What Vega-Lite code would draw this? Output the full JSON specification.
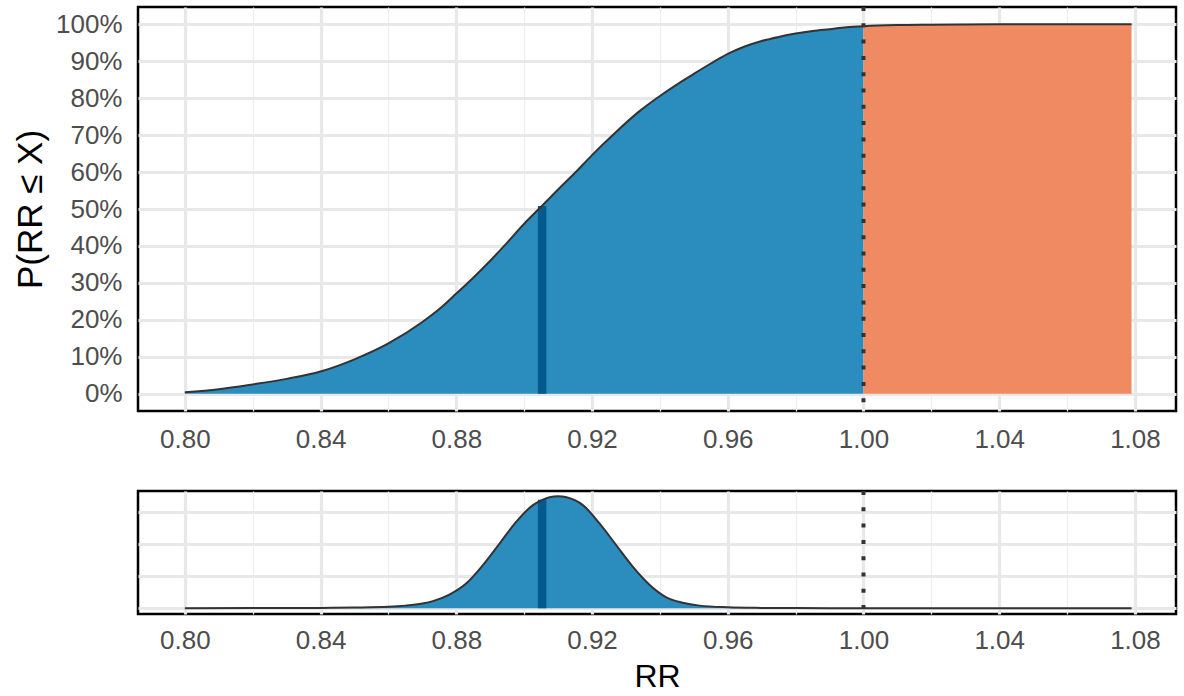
{
  "$schema": "https://vega.github.io/schema/vega-lite/v6.json",
  "background": "white",
  "padding": {"left": 12, "top": 3, "right": 8, "bottom": 2},
  "spacing": 33,
  "config": {
    "font": "Liberation Sans",
    "view": {"stroke": "black", "strokeWidth": 2.5, "fill": "white"},
    "axis": {
      "labelFont": "Liberation Sans",
      "labelFontSize": 26,
      "labelColor": "#4d4d4d",
      "labelOverlap": false,
      "labelFlush": false,
      "ticks": false,
      "domain": false,
      "gridColor": "#ebebeb",
      "titleFont": "Liberation Sans",
      "titleFontSize": 32,
      "titleColor": "black",
      "titleFontWeight": "normal"
    }
  },
  "datasets": {
    "cdf": [
      {"rr": 0.80, "p": 0.004, "region": "below"},
      {"rr": 0.81, "p": 0.012, "region": "below"},
      {"rr": 0.82, "p": 0.025, "region": "below"},
      {"rr": 0.83, "p": 0.040, "region": "below"},
      {"rr": 0.84, "p": 0.060, "region": "below"},
      {"rr": 0.85, "p": 0.093, "region": "below"},
      {"rr": 0.86, "p": 0.136, "region": "below"},
      {"rr": 0.87, "p": 0.194, "region": "below"},
      {"rr": 0.875, "p": 0.229, "region": "below"},
      {"rr": 0.88, "p": 0.271, "region": "below"},
      {"rr": 0.885, "p": 0.314, "region": "below"},
      {"rr": 0.89, "p": 0.36, "region": "below"},
      {"rr": 0.895, "p": 0.409, "region": "below"},
      {"rr": 0.90, "p": 0.46, "region": "below"},
      {"rr": 0.9053, "p": 0.509, "region": "below"},
      {"rr": 0.91, "p": 0.553, "region": "below"},
      {"rr": 0.915, "p": 0.598, "region": "below"},
      {"rr": 0.92, "p": 0.646, "region": "below"},
      {"rr": 0.927, "p": 0.708, "region": "below"},
      {"rr": 0.934, "p": 0.765, "region": "below"},
      {"rr": 0.94, "p": 0.806, "region": "below"},
      {"rr": 0.946, "p": 0.843, "region": "below"},
      {"rr": 0.95, "p": 0.866, "region": "below"},
      {"rr": 0.955, "p": 0.894, "region": "below"},
      {"rr": 0.96, "p": 0.92, "region": "below"},
      {"rr": 0.965, "p": 0.94, "region": "below"},
      {"rr": 0.97, "p": 0.955, "region": "below"},
      {"rr": 0.975, "p": 0.966, "region": "below"},
      {"rr": 0.98, "p": 0.975, "region": "below"},
      {"rr": 0.985, "p": 0.982, "region": "below"},
      {"rr": 0.99, "p": 0.987, "region": "below"},
      {"rr": 0.995, "p": 0.992, "region": "below"},
      {"rr": 1.0, "p": 0.995, "region": "below"},
      {"rr": 1.0, "p": 0.995, "region": "above"},
      {"rr": 1.01, "p": 0.998, "region": "above"},
      {"rr": 1.02, "p": 0.999, "region": "above"},
      {"rr": 1.03, "p": 0.9997, "region": "above"},
      {"rr": 1.04, "p": 1.0, "region": "above"},
      {"rr": 1.06, "p": 1.0, "region": "above"},
      {"rr": 1.079, "p": 1.0, "region": "above"}
    ],
    "dens": [
      {"rr": 0.80, "d": 0},
      {"rr": 0.82, "d": 0.03},
      {"rr": 0.84, "d": 0.10},
      {"rr": 0.85, "d": 0.21},
      {"rr": 0.86, "d": 0.45},
      {"rr": 0.865, "d": 0.80},
      {"rr": 0.87, "d": 1.45},
      {"rr": 0.8731, "d": 2.2},
      {"rr": 0.8781, "d": 4.3},
      {"rr": 0.883, "d": 7.73},
      {"rr": 0.8879, "d": 13.43},
      {"rr": 0.8928, "d": 20.15},
      {"rr": 0.8977, "d": 26.87},
      {"rr": 0.9026, "d": 32.02},
      {"rr": 0.9052, "d": 33.58},
      {"rr": 0.9075, "d": 34.45},
      {"rr": 0.9099, "d": 34.8},
      {"rr": 0.9125, "d": 34.45},
      {"rr": 0.9173, "d": 32.02},
      {"rr": 0.9222, "d": 26.34},
      {"rr": 0.9271, "d": 19.63},
      {"rr": 0.932, "d": 12.91},
      {"rr": 0.937, "d": 7.24},
      {"rr": 0.9419, "d": 3.4},
      {"rr": 0.9467, "d": 1.7},
      {"rr": 0.9517, "d": 0.8},
      {"rr": 0.96, "d": 0.3},
      {"rr": 0.97, "d": 0.10},
      {"rr": 0.98, "d": 0.03},
      {"rr": 1.0, "d": 0},
      {"rr": 1.04, "d": 0},
      {"rr": 1.079, "d": 0}
    ],
    "med": [{"rr": 0.9053, "p": 0.508, "d": 33.7}]
  },
  "vconcat": [
    {
      "width": 1038,
      "height": 404,
      "layer": [
        {
          "data": {"name": "cdf"},
          "mark": {"type": "area", "opacity": 1, "interpolate": "monotone"},
          "encoding": {
            "x": {
              "field": "rr", "type": "quantitative",
              "scale": {"domain": [0.7862, 1.0921], "nice": false, "zero": false},
              "axis": {
                "values": [0.80, 0.82, 0.84, 0.86, 0.88, 0.90, 0.92, 0.94, 0.96, 0.98, 1.00, 1.02, 1.04, 1.06, 1.08],
                "labelExpr": "round(datum.value*100) % 4 == 0 ? format(datum.value, '.2f') : ''",
                "gridWidth": {"condition": {"test": "round(datum.value*100) % 4 == 0", "value": 3.2}, "value": 1.3},
                "gridColor": {"condition": {"test": "round(datum.value*100) % 4 == 0", "value": "#e8e8e8"}, "value": "#eeeeee"},
                "labelPadding": 15,
                "title": null
              }
            },
            "y": {
              "field": "p", "type": "quantitative",
              "scale": {"domain": [-0.047, 1.047], "nice": false, "zero": false},
              "axis": {
                "values": [0, 0.05, 0.1, 0.15, 0.2, 0.25, 0.3, 0.35, 0.4, 0.45, 0.5, 0.55, 0.6, 0.65, 0.7, 0.75, 0.8, 0.85, 0.9, 0.95, 1.0],
                "labelExpr": "round(datum.value*100) % 10 == 0 ? format(datum.value, '.0%') : ''",
                "gridWidth": {"condition": {"test": "round(datum.value*100) % 10 == 0", "value": 3.2}, "value": 1.3},
                "gridColor": {"condition": {"test": "round(datum.value*100) % 10 == 0", "value": "#e8e8e8"}, "value": "#eeeeee"},
                "labelPadding": 16,
                "titlePadding": 7,
                "titleFontSize": 35,
                "title": "P(RR ≤ X)"
              }
            },
            "y2": {"datum": 0},
            "color": {
              "field": "region", "type": "nominal",
              "scale": {"domain": ["below", "above"], "range": ["#2b8cbe", "#ef8a62"]},
              "legend": null
            }
          }
        },
        {
          "data": {"name": "med"},
          "mark": {"type": "rule", "color": "#045a8d", "strokeWidth": 8.5},
          "encoding": {
            "x": {"field": "rr", "type": "quantitative"},
            "y": {"field": "p", "type": "quantitative"},
            "y2": {"datum": 0}
          }
        },
        {
          "data": {"name": "cdf"},
          "mark": {"type": "line", "color": "#333333", "strokeWidth": 2, "interpolate": "monotone"},
          "encoding": {
            "x": {"field": "rr", "type": "quantitative"},
            "y": {"field": "p", "type": "quantitative"}
          }
        },
        {
          "data": {"values": [{"ref": 1.0}]},
          "mark": {"type": "rule", "color": "#333333", "strokeWidth": 4, "strokeDash": [4, 12.3]},
          "encoding": {
            "x": {"field": "ref", "type": "quantitative"}
          }
        }
      ]
    },
    {
      "width": 1038,
      "height": 123,
      "layer": [
        {
          "data": {"name": "dens"},
          "mark": {"type": "area", "color": "#2b8cbe", "opacity": 1, "interpolate": "monotone"},
          "encoding": {
            "x": {
              "field": "rr", "type": "quantitative",
              "scale": {"domain": [0.7862, 1.0921], "nice": false, "zero": false},
              "axis": {
                "values": [0.80, 0.82, 0.84, 0.86, 0.88, 0.90, 0.92, 0.94, 0.96, 0.98, 1.00, 1.02, 1.04, 1.06, 1.08],
                "labelExpr": "round(datum.value*100) % 4 == 0 ? format(datum.value, '.2f') : ''",
                "gridWidth": {"condition": {"test": "round(datum.value*100) % 4 == 0", "value": 3.2}, "value": 1.3},
                "gridColor": {"condition": {"test": "round(datum.value*100) % 4 == 0", "value": "#e8e8e8"}, "value": "#eeeeee"},
                "labelPadding": 13,
                "titlePadding": 8,
                "title": "RR"
              }
            },
            "y": {
              "field": "d", "type": "quantitative",
              "scale": {"domain": [-1.8, 36.4], "nice": false, "zero": false},
              "axis": {
                "values": [0, 5, 10, 15, 20, 25, 30, 35],
                "labels": false,
                "gridWidth": {"condition": {"test": "datum.value % 10 == 0", "value": 3.2}, "value": 1.3},
                "gridColor": {"condition": {"test": "datum.value % 10 == 0", "value": "#e8e8e8"}, "value": "#eeeeee"},
                "title": null
              }
            },
            "y2": {"datum": 0}
          }
        },
        {
          "data": {"name": "med"},
          "mark": {"type": "rule", "color": "#045a8d", "strokeWidth": 8.5},
          "encoding": {
            "x": {"field": "rr", "type": "quantitative"},
            "y": {"field": "d", "type": "quantitative"},
            "y2": {"datum": 0}
          }
        },
        {
          "data": {"name": "dens"},
          "mark": {"type": "line", "color": "#333333", "strokeWidth": 2, "interpolate": "monotone"},
          "encoding": {
            "x": {"field": "rr", "type": "quantitative"},
            "y": {"field": "d", "type": "quantitative"}
          }
        },
        {
          "data": {"values": [{"ref": 1.0}]},
          "mark": {"type": "rule", "color": "#333333", "strokeWidth": 4, "strokeDash": [4, 12.3]},
          "encoding": {
            "x": {"field": "ref", "type": "quantitative"}
          }
        }
      ]
    }
  ]
}
